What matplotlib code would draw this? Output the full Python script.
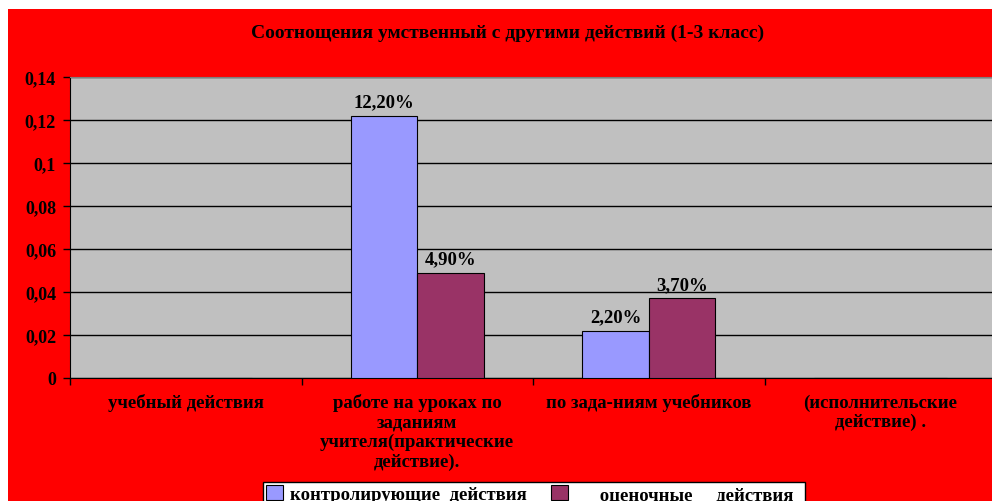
import numpy as np
import matplotlib.pyplot as plt
from matplotlib.ticker import FuncFormatter, MultipleLocator
from matplotlib.patches import Rectangle

# categories and series values
categories = [
    "учебный действия",
    "работе на уроках по\nзаданиям\nучителя(практические\nдействие).",
    "по зада-ниям учебников",
    "(исполнительские\nдействие) .",
]
series_names = ["контролирующие  действия", "     оценочные     действия  "]
control = [0.0, 0.122, 0.022, 0.0]
evaluative = [0.0, 0.049, 0.037, 0.0]
colors = ["#9999FF", "#993366"]

plt.rcParams["font.family"] = ["Liberation Serif", "DejaVu Serif"]
plt.rcParams["font.weight"] = "bold"

fig = plt.figure(figsize=(9.92, 5.02), dpi=100, facecolor="white")

# red chart area with a thin white margin on top and left
fig.patches.append(Rectangle((8 / 992, 0), 1, 1 - 10 / 502, transform=fig.transFigure,
                             facecolor="#FF0000", edgecolor="none", zorder=-1))

ax = fig.add_axes([70 / 992, 1 - 379 / 502, 926 / 992, 301 / 502])
ax.set_facecolor("#C0C0C0")

x = np.arange(len(categories))
w = 0.287
b1 = ax.bar(x - w / 2, control, w, color=colors[0], edgecolor="black", linewidth=0.8,
            label=series_names[0], zorder=3)
b2 = ax.bar(x + w / 2, evaluative, w, color=colors[1], edgecolor="black", linewidth=0.8,
            label=series_names[1], zorder=3)

# value labels on non-empty bars
for bars, vals in ((b1, control), (b2, evaluative)):
    for rect, v in zip(bars, vals):
        if v > 0:
            ax.annotate(f"{v * 100:.2f}%".replace(".", ","),
                        (rect.get_x() + rect.get_width() / 2, v),
                        xytext=(0, 4), textcoords="offset points",
                        ha="center", va="bottom", fontsize=13.5, fontweight="bold")

ax.set_xlim(-0.5, 3.5)
ax.set_ylim(0, 0.14)
ax.yaxis.set_major_locator(MultipleLocator(0.02))
ax.yaxis.set_major_formatter(FuncFormatter(lambda v, p: f"{round(v, 2):g}".replace(".", ",")))
ax.grid(axis="y", color="black", linewidth=1, zorder=1)
ax.set_axisbelow(True)

ax.set_xticks(x)
ax.set_xticklabels(categories, fontsize=13.5, fontweight="bold", linespacing=1.17)
ax.tick_params(axis="x", which="major", length=0, pad=11)
ax.set_xticks(np.arange(-0.5, 4, 1), minor=True)
ax.tick_params(axis="x", which="minor", length=5, width=1, direction="out")
ax.tick_params(axis="y", length=5, width=1, direction="out", labelsize=13, pad=5)
for lbl in ax.get_yticklabels():
    lbl.set_fontweight("bold")

ax.spines["right"].set_visible(False)
ax.spines["top"].set_color("#808080")
ax.spines["left"].set_color("black")
ax.spines["bottom"].set_color("black")

fig.text(0.512, 1 - 33 / 502, "Соотнощения умственный с другими действий (1-3 класс)",
         ha="center", va="center", fontsize=14, fontweight="bold")

leg = fig.legend(loc="upper left", bbox_to_anchor=(263 / 992, 19 / 502), ncol=2,
                 frameon=True, fancybox=False, edgecolor="black", facecolor="white",
                 framealpha=1, handlelength=0.9, handleheight=0.9,
                 handletextpad=0.4, columnspacing=1.3, borderpad=0.15, borderaxespad=0,
                 prop={"weight": "bold", "size": 13.5})
leg.get_frame().set_linewidth(1)

fig.savefig("out.png", dpi=100, facecolor=fig.get_facecolor())
